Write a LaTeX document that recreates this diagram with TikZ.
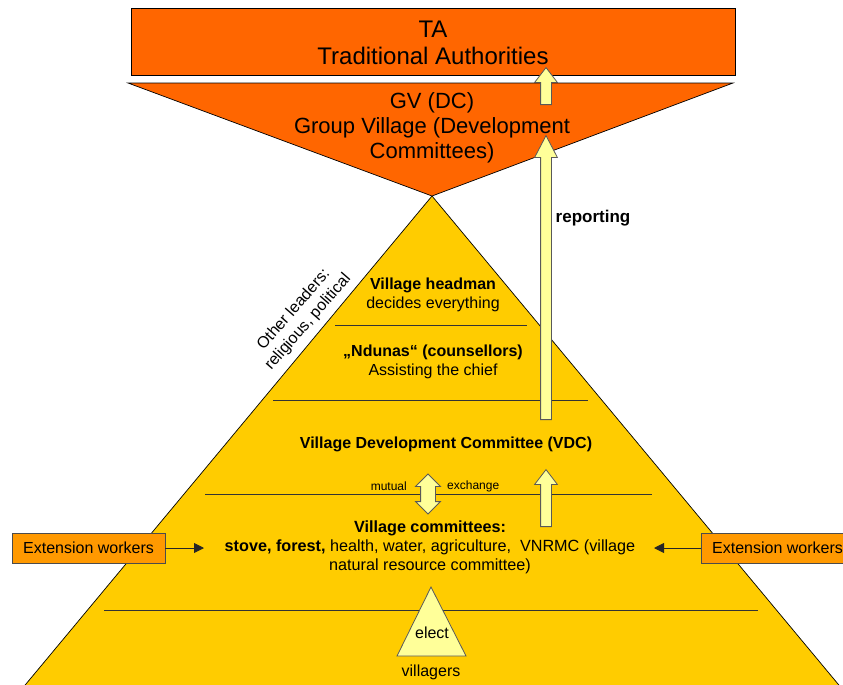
\documentclass[tikz,border=0pt]{standalone}
\usepackage{fontspec}
\setmainfont{Liberation Sans}
\usetikzlibrary{arrows.meta,shapes.arrows}

\definecolor{taorange}{HTML}{FF6600}
\definecolor{pyrgold}{HTML}{FFCC00}
\definecolor{paleyellow}{HTML}{FFFF99}
\definecolor{extorange}{HTML}{FF9900}

\newcommand{\fs}[2]{\fontsize{#1}{#2}\selectfont}

\tikzset{
  tierline/.style={draw=black!80, line width=0.7pt},
  label/.style={align=center, inner sep=0pt, font=\fs{16}{19}},
  blockup/.style={single arrow, draw=black!65, fill=paleyellow, line width=0.8pt,
    rotate=90, anchor=tail, inner xsep=0pt, inner ysep=5pt,
    single arrow head extend=6pt, single arrow tip angle=75},
  extbox/.style={draw=black!70, fill=extorange, line width=0.7pt,
    minimum width=153pt, minimum height=30pt, inner sep=0pt, font=\fs{16}{19}},
  feed/.style={draw=black!85, line width=0.9pt, -{Triangle[length=10pt,width=10pt]}}
}

\begin{document}
\begin{tikzpicture}[x=1pt,y=-1pt]
  \useasboundingbox (0,0) rectangle (843,685);

  % village pyramid
  \fill[pyrgold] (432,196) -- (21,690) -- (843,690) -- cycle;
  \draw[line width=0.7pt] (21,690) -- (432,196) -- (843,690);

  % group village funnel and TA bar
  \draw[fill=taorange, line width=0.7pt] (128,83) -- (733,83) -- (432,196) -- cycle;
  \draw[fill=taorange, line width=0.7pt] (131,8) rectangle (735,75);
  \node[label, font=\fs{24}{27}] (ta) at (433,43) {TA\\Traditional Authorities};
  \node[label, font=\fs{22}{25}] (gv) at (432,128) {GV (DC)\\Group Village (Development\\Committees)};

  % tiers
  \draw[tierline] (335,325) -- (527,325);
  \draw[tierline] (273,400) -- (588,400);
  \draw[tierline] (205,494) -- (652,494);
  \draw[tierline] (104,610) -- (758,610);

  \node[label] (headman) at (433,295) {\textbf{Village headman}\\decides everything};
  \node[label] (ndunas) at (433,362) {\textbf{„Ndunas“ (counsellors)}\\Assisting the chief};
  \node[label] (vdc) at (446,444) {\textbf{Village Development Committee (VDC)}};
  \node[label, font=\fs{16.2}{19}] (committees) at (430,547) {\textbf{Village committees:}\\
    \textbf{stove, forest,} health, water, agriculture,\ \ VNRMC (village\\
    natural resource committee)};
  \node[label, rotate=49] (leaders) at (301,316) {Other leaders:\\religious, political};

  % reporting arrows
  \node[blockup, minimum height=284pt, single arrow tip angle=55] (report) at (546,420) {};
  \node[blockup, minimum height=37pt] (toTA) at (546,105) {};
  \node[blockup, minimum height=57pt] (toVDC) at (546,527) {};
  \node[label, font=\bfseries\fs{17}{20}] (reporting) at (593,218) {reporting};

  % mutual exchange
  \node[double arrow, draw=black!65, fill=paleyellow, line width=0.8pt, rotate=90,
    inner xsep=0pt, inner ysep=7pt, double arrow head extend=5pt,
    minimum height=40pt] (exch) at (428,494) {};
  \node[label, font=\fs{12}{14}, anchor=east] (mutual) at (407,486) {mutual};
  \node[label, font=\fs{12}{14}, anchor=west] (exchange) at (447,486) {exchange};

  % villagers elect
  \draw[draw=black!65, fill=paleyellow, line width=0.8pt] (431,587) -- (466,656) -- (397,656) -- cycle;
  \node[label] (elect) at (432,633) {elect};
  \node[label] (villagers) at (431,672) {villagers};

  % extension workers
  \node[extbox] (extL) at (88.5,548) {Extension workers};
  \node[extbox] (extR) at (777.5,548) {Extension workers};
  \coordinate (inL) at (204,548);
  \coordinate (inR) at (654,548);
  \draw[feed] (extL) -- (inL);
  \draw[feed] (extR) -- (inR);
\end{tikzpicture}
\end{document}
